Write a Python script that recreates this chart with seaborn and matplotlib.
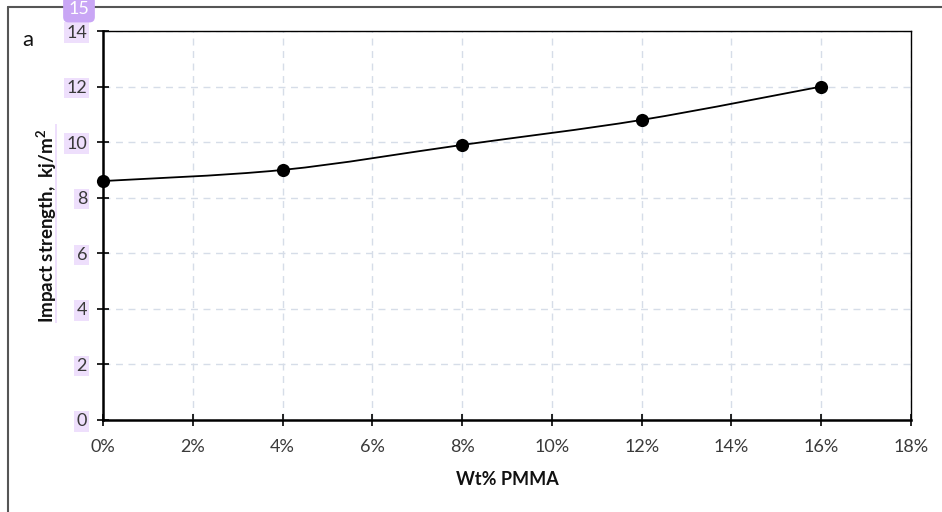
import numpy as np
import pandas as pd
import matplotlib
matplotlib.use("Agg")
import matplotlib.pyplot as plt
from matplotlib.path import Path
from matplotlib.patches import PathPatch, Rectangle
from matplotlib.lines import Line2D
from matplotlib.ticker import FuncFormatter, MultipleLocator
import seaborn as sns

# ---- data ----
wt_pmma = [0.00, 0.04, 0.08, 0.12, 0.16]
impact_strength = [8.6, 9.0, 9.9, 10.8, 12.0]
x_label = "Wt% PMMA"
y_label = "Impact strength,  kj/m$^2$"
panel_label = "a"
page_marker = "15"

df = pd.DataFrame({"x": wt_pmma, "y": impact_strength})

sns.set_theme(style="white")
plt.rcParams["font.family"] = ["Lato", "DejaVu Sans"]
plt.rcParams["mathtext.default"] = "regular"

W, H = 942, 512
fig = plt.figure(figsize=(W / 100, H / 100), dpi=100)
fig.patch.set_facecolor("white")

def px(x0, y0, x1, y1):
    return [x0 / W, 1 - y1 / H, (x1 - x0) / W, (y1 - y0) / H]

ax = fig.add_axes(px(103, 31, 911, 420))

# smooth (Excel-like) curve through the points
pts = np.column_stack([wt_pmma, impact_strength])
n = len(pts)
verts = [tuple(pts[0])]
codes = [Path.MOVETO]
for i in range(n - 1):
    p0 = pts[i - 1] if i > 0 else pts[i]
    p1 = pts[i]
    p2 = pts[i + 1]
    p3 = pts[i + 2] if i + 2 < n else pts[i + 1]
    c1 = p1 + (p2 - p0) / 6.0
    c2 = p2 - (p3 - p1) / 6.0
    verts += [tuple(c1), tuple(c2), tuple(p2)]
    codes += [Path.CURVE4] * 3
ax.add_patch(PathPatch(Path(verts, codes), facecolor="none", edgecolor="black",
                       lw=1.3, zorder=3))

sns.scatterplot(data=df, x="x", y="y", ax=ax, color="black", s=90,
                edgecolor="black", linewidth=0, zorder=4, clip_on=False)

ax.set_xlim(0, 0.18)
ax.set_ylim(0, 14)
ax.xaxis.set_major_locator(MultipleLocator(0.02))
ax.yaxis.set_major_locator(MultipleLocator(2))
ax.xaxis.set_major_formatter(FuncFormatter(lambda v, p: f"{v*100:.0f}%"))

ax.grid(True, which="major", color="#D6DDE8", linestyle=(0, (5, 4)), lw=1.0)
ax.set_axisbelow(True)

for side in ["left", "bottom"]:
    ax.spines[side].set_color("black")
    ax.spines[side].set_linewidth(1.8)
for side in ["top", "right"]:
    ax.spines[side].set_color("black")
    ax.spines[side].set_linewidth(1.0)

ax.tick_params(axis="both", which="major", direction="inout", length=9, width=1.2,
               color="black", labelsize=13, labelcolor="#3a3a3a")
ax.tick_params(axis="x", pad=9, bottom=True)
ax.tick_params(axis="y", pad=7, left=True)

ax.set_xlabel(x_label, fontsize=13, fontweight="bold", labelpad=12, color="#111111")
ax.set_ylabel(y_label, fontsize=13.5, fontweight="bold", labelpad=5.5, color="#111111")

fig.canvas.draw()
for lbl in ax.get_yticklabels():
    lbl.set_bbox(dict(facecolor="#EEDFFC", edgecolor="none", pad=1.5))

# outer frame lines
fig.add_artist(Line2D([8 / W, 8 / W], [1 - 7 / H, 0], transform=fig.transFigure,
                      color="#555555", lw=1.5))
fig.add_artist(Line2D([8 / W, 1], [1 - 7 / H, 1 - 7 / H], transform=fig.transFigure,
                      color="#555555", lw=1.5))

# lavender strip next to the y label
fig.add_artist(Rectangle((55 / W, 1 - 323 / H), 2 / W, 199 / H,
                         transform=fig.transFigure, facecolor="#EEDFFC",
                         edgecolor="none", zorder=-1))

fig.text(28 / W, 1 - 46 / H, panel_label, fontsize=16, color="#111111",
         ha="center", va="baseline")
fig.text(79 / W, 1 - 9 / H, page_marker, fontsize=13, color="white",
         ha="center", va="center",
         bbox=dict(boxstyle="round,pad=0.3,rounding_size=0.3",
                   facecolor="#C9A6F5", edgecolor="none"))

fig.savefig("out.png", dpi=100, facecolor="white")
